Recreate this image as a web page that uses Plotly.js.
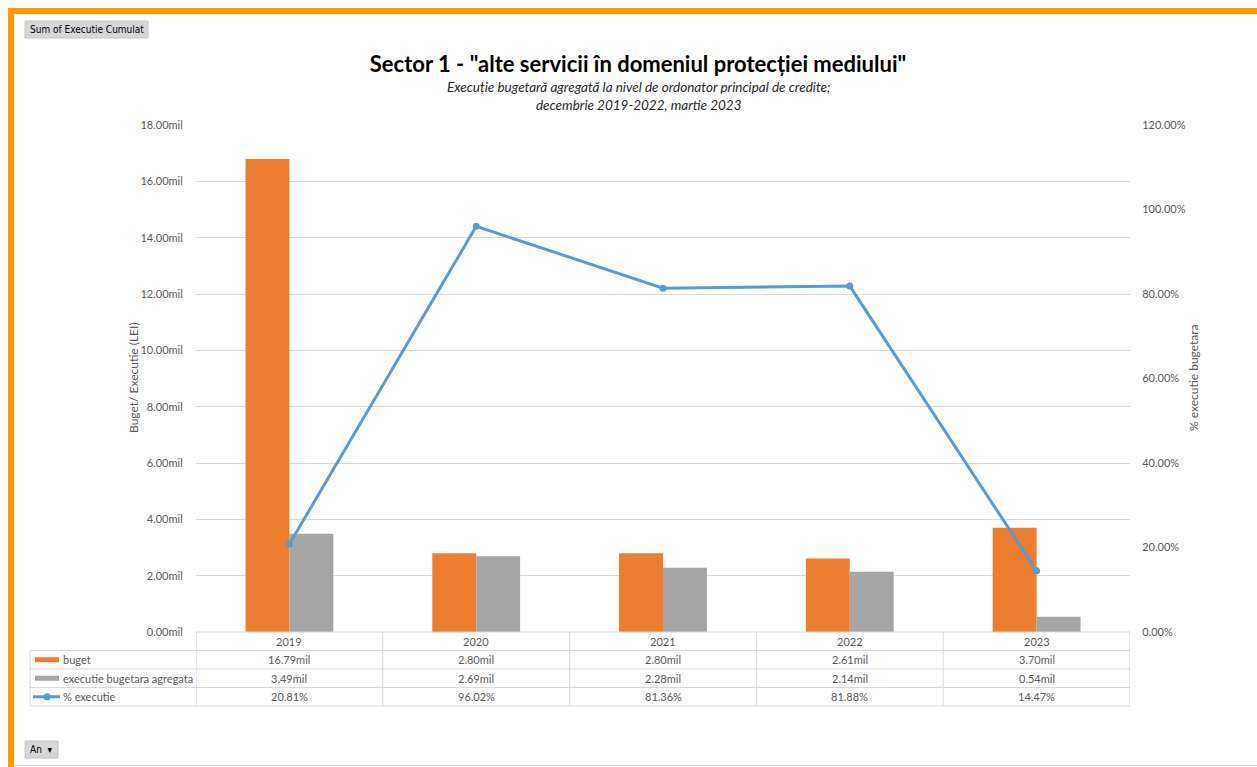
<!DOCTYPE html>
<html>
<head>
<meta charset="utf-8">
<script src="https://cdn.plot.ly/plotly-3.0.1.min.js"></script>
<style>
html,body{margin:0;padding:0;background:#fff;}
#chart{width:1257px;height:767px;}
</style>
</head>
<body>
<div id="chart"></div>
<script>
// ---- data ----
const years = ["2019", "2020", "2021", "2022", "2023"];
const buget = [16.79, 2.80, 2.80, 2.61, 3.70];            // mil LEI
const executie = [3.49, 2.69, 2.28, 2.14, 0.54];           // mil LEI
const pctExecutie = [0.2081, 0.9602, 0.8136, 0.8188, 0.1447];
const seriesNames = ["buget", "executie bugetara agregata", "% executie"];

// ---- layout geometry (pixels) ----
const W = 1257, H = 767;
const L = 196, R = 1130, T = 125, B = 632;
const px = p => (p - L) / (R - L);
const py = p => (B - p) / (B - T);

const cOrange = "#ED7D31", cGray = "#A5A5A5", cBlue = "#5B9BD5";
const txt = "#595959", grid = "#D9D9D9";
const font = "Lato, 'Open Sans', sans-serif";

const traces = [
  {type: "bar", name: seriesNames[0], x: years, y: buget, marker: {color: cOrange}, yaxis: "y"},
  {type: "bar", name: seriesNames[1], x: years, y: executie, marker: {color: cGray}, yaxis: "y"},
  {type: "scatter", mode: "lines+markers", name: seriesNames[2], x: years, y: pctExecutie, yaxis: "y2",
   line: {color: cBlue, width: 3}, marker: {color: cBlue, size: 7}}
];

const shapes = [];
const annotations = [];
function note(o) {
  annotations.push(Object.assign({showarrow: false, xanchor: "center", yanchor: "middle"}, o));
}

// table rows (pixel boundaries)
const rowY = [632, 650.5, 669, 687.5, 706];
const tableLeft = 30;
const lineStyle = {color: grid, width: 1};
shapes.push({type: "line", xref: "paper", yref: "paper", x0: 0, x1: 1, y0: py(rowY[0]), y1: py(rowY[0]), line: lineStyle});
for (let i = 1; i < rowY.length; i++) {
  shapes.push({type: "line", xref: "paper", yref: "paper", x0: px(tableLeft), x1: 1, y0: py(rowY[i]), y1: py(rowY[i]), line: lineStyle});
}
shapes.push({type: "line", xref: "paper", yref: "paper", x0: px(tableLeft), x1: px(tableLeft), y0: py(rowY[1]), y1: py(rowY[4]), line: lineStyle});
for (let i = 0; i <= years.length; i++) {
  shapes.push({type: "line", xref: "x", yref: "paper", x0: i - 0.5, x1: i - 0.5, y0: py(rowY[0]), y1: py(rowY[4]), line: lineStyle});
}
const rowMid = k => py((rowY[k] + rowY[k + 1]) / 2);
const cellFont = {family: font, size: 11, color: txt};
years.forEach((yr, i) => {
  note({xref: "x", yref: "paper", x: i, y: rowMid(0), text: yr, font: cellFont});
  note({xref: "x", yref: "paper", x: i, y: rowMid(1), text: buget[i].toFixed(2) + "mil", font: cellFont});
  note({xref: "x", yref: "paper", x: i, y: rowMid(2), text: executie[i].toFixed(2) + "mil", font: cellFont});
  note({xref: "x", yref: "paper", x: i, y: rowMid(3), text: (pctExecutie[i] * 100).toFixed(2) + "%", font: cellFont});
});
// legend keys + labels
const keyX0 = 35, keyX1 = 59;
[[1, cOrange], [2, cGray]].forEach(([k, c]) => {
  const m = (rowY[k] + rowY[k + 1]) / 2;
  shapes.push({type: "rect", xref: "paper", yref: "paper", x0: px(keyX0), x1: px(keyX1),
    y0: py(m - 2.5), y1: py(m + 2.5), fillcolor: c, line: {width: 0}});
});
const lm = (rowY[3] + rowY[4]) / 2;
shapes.push({type: "line", xref: "paper", yref: "paper", x0: px(33), x1: px(60), y0: py(lm), y1: py(lm), line: {color: cBlue, width: 3}});
shapes.push({type: "circle", xref: "paper", yref: "paper", x0: px(43.5), x1: px(50.5), y0: py(lm - 3.5), y1: py(lm + 3.5), fillcolor: cBlue, line: {width: 0}});
seriesNames.forEach((n, k) => {
  note({xref: "paper", yref: "paper", x: px(61), y: rowMid(k + 1), xanchor: "left", text: n, font: cellFont});
});

// axis titles
note({xref: "paper", yref: "paper", x: px(133), y: py(378), text: "Buget/ Executie (LEI)", textangle: -90,
  font: {family: font, size: 12, color: txt}});
note({xref: "paper", yref: "paper", x: px(1193), y: py(378), text: "% executie bugetara", textangle: -90,
  font: {family: font, size: 12, color: txt}});

// subtitle
note({xref: "paper", yref: "paper", x: px(638), y: py(96), text: "<i>Execuție bugetară agregată la nivel de ordonator principal de credite;<br>decembrie 2019-2022, martie 2023</i>",
  font: {family: font, size: 13.5, color: "#262626"}});

// orange frame & bottom line
shapes.push({type: "rect", xref: "paper", yref: "paper", x0: px(8), x1: px(1260), y0: py(8), y1: py(14), fillcolor: "#FF9900", line: {width: 0}, layer: "above"});
shapes.push({type: "rect", xref: "paper", yref: "paper", x0: px(8), x1: px(14), y0: py(8), y1: py(770), fillcolor: "#FF9900", line: {width: 0}, layer: "above"});
shapes.push({type: "line", xref: "paper", yref: "paper", x0: px(14), x1: px(1257), y0: py(765.5), y1: py(765.5), line: {color: "#D9D9D9", width: 1}});

// pivot buttons
const btnFont = {family: "'DejaVu Sans Condensed', 'Liberation Sans', sans-serif", size: 10, color: "#000"};
shapes.push({type: "rect", xref: "paper", yref: "paper", x0: px(25), x1: px(148), y0: py(21), y1: py(38), fillcolor: "#D6D6D6", line: {color: "#C4C4C4", width: 1}});
note({xref: "paper", yref: "paper", x: px(28), y: py(29.5), xanchor: "left", text: "Sum of Executie Cumulat", font: btnFont});
shapes.push({type: "rect", xref: "paper", yref: "paper", x0: px(25), x1: px(58), y0: py(741), y1: py(758), fillcolor: "#D6D6D6", line: {color: "#C4C4C4", width: 1}});
note({xref: "paper", yref: "paper", x: px(28), y: py(749.5), xanchor: "left", text: "An  ▾", font: btnFont});

const layout = {
  width: W, height: H,
  margin: {l: L, r: W - R, t: T, b: H - B, pad: 0},
  paper_bgcolor: "#fff", plot_bgcolor: "#fff",
  showlegend: false,
  barmode: "group", bargap: 0.53, bargroupgap: 0,
  title: {text: '<b>Sector 1 - "alte servicii în domeniul protecției mediului"</b>', x: 638 / W, xanchor: "center",
    y: 1 - 64 / H, yanchor: "middle", font: {family: font, size: 22, color: "#000"}},
  xaxis: {type: "category", range: [-0.5, 4.5], showticklabels: false, showgrid: false, zeroline: false, showline: false, ticks: "", fixedrange: true},
  yaxis: {range: [0, 18], dtick: 2, tickformat: ".2f", ticksuffix: "mil", gridcolor: grid, gridwidth: 1, zeroline: false, showline: false,
    ticks: "outside", ticklen: 10, tickcolor: "rgba(0,0,0,0)", tickfont: {family: font, size: 11, color: txt}},
  yaxis2: {overlaying: "y", side: "right", range: [0, 1.2], dtick: 0.2, tickformat: ".2%", showgrid: false, zeroline: false, showline: false,
    ticks: "outside", ticklen: 9, tickcolor: "rgba(0,0,0,0)", tickfont: {family: font, size: 11, color: txt}},
  shapes: shapes,
  annotations: annotations,
  font: {family: font}
};

Plotly.newPlot("chart", traces, layout, {displayModeBar: false, staticPlot: true});
</script>
</body>
</html>
